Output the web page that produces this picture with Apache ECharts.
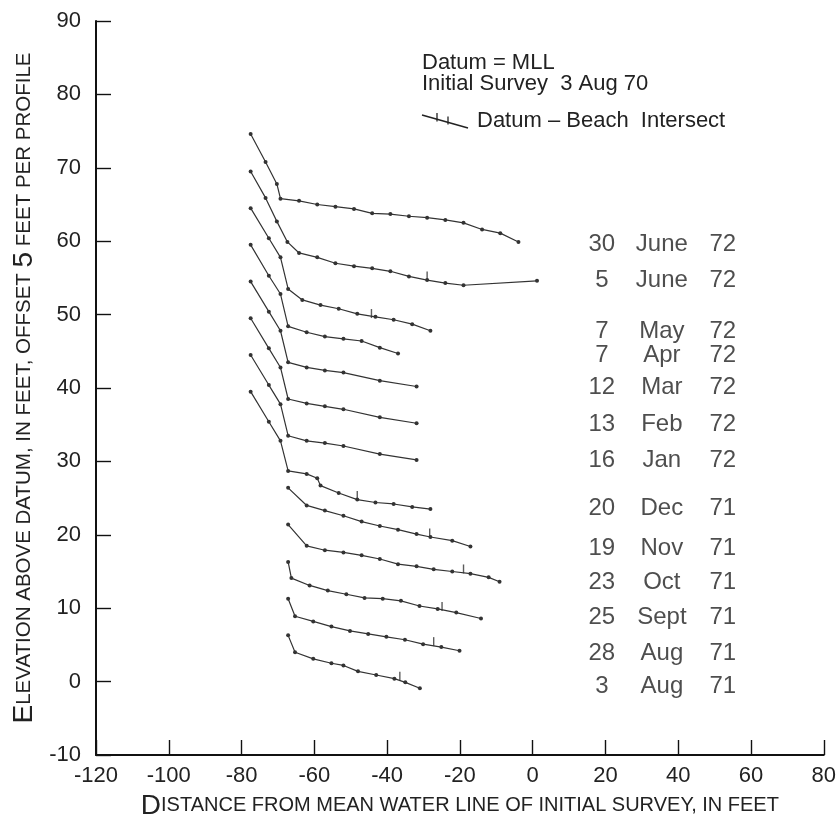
<!DOCTYPE html>
<html>
<head>
<meta charset="utf-8">
<script src="https://cdn.jsdelivr.net/npm/echarts@6/dist/echarts.min.js"></script>
<style>
html,body{margin:0;padding:0;background:#fff;}
#chart{width:839px;height:828px;}
</style>
</head>
<body>
<div id="chart"></div>
<script>
// ---- Data ----
const profileDays   = ['30', '5', '7', '7', '12', '13', '16', '20', '19', '23', '25', '28', '3'];
const profileMonths = ['June', 'June', 'May', 'Apr', 'Mar', 'Feb', 'Jan', 'Dec', 'Nov', 'Oct', 'Sept', 'Aug', 'Aug'];
const profileYears  = ['72', '72', '72', '72', '72', '72', '72', '71', '71', '71', '71', '71', '71'];
const labelElev     = [59.6, 54.6, 47.7, 44.5, 40.1, 35.0, 30.2, 23.6, 18.2, 13.5, 8.7, 3.8, -0.6];

const x30Jun72 = [-77.5, -73.4, -70.3, -69.3, -64.2, -59.2, -54.2, -49.1, -44.1, -39.1, -34.0, -29.0, -24.0, -19.0, -13.9, -8.9, -3.9];
const y30Jun72 = [74.6, 70.8, 67.8, 65.8, 65.5, 65.0, 64.7, 64.4, 63.8, 63.7, 63.4, 63.2, 62.9, 62.5, 61.6, 61.1, 59.9];

const x5Jun72 = [-77.5, -73.4, -70.3, -67.4, -64.2, -59.2, -54.2, -49.1, -44.1, -39.1, -34.0, -29.0, -24.0, -19.0, 1.2];
const y5Jun72 = [69.5, 65.9, 62.7, 59.9, 58.4, 57.8, 57.0, 56.6, 56.3, 55.9, 55.2, 54.7, 54.3, 54.0, 54.6];

const x7May72 = [-77.5, -72.5, -69.3, -67.2, -63.3, -58.3, -53.3, -48.2, -43.2, -38.2, -33.1, -28.1];
const y7May72 = [64.5, 60.4, 57.8, 53.5, 52.0, 51.3, 50.8, 50.1, 49.7, 49.3, 48.7, 47.8];

const x7Apr72 = [-77.5, -72.5, -69.3, -67.2, -62.1, -57.1, -52.0, -47.0, -42.0, -37.0];
const y7Apr72 = [59.5, 55.3, 52.8, 48.4, 47.6, 47.0, 46.7, 46.4, 45.5, 44.7];

const x12Mar72 = [-77.5, -72.5, -69.3, -67.2, -62.1, -57.1, -52.0, -42.0, -31.9];
const y12Mar72 = [54.5, 50.4, 47.8, 43.5, 42.8, 42.4, 42.1, 41.0, 40.2];

const x13Feb72 = [-77.5, -72.5, -69.3, -67.2, -62.1, -57.1, -52.0, -42.0, -31.9];
const y13Feb72 = [49.5, 45.4, 42.8, 38.5, 37.9, 37.5, 37.1, 36.0, 35.2];

const x16Jan72 = [-77.5, -72.5, -69.3, -67.2, -62.1, -57.1, -52.0, -42.0, -31.9];
const y16Jan72 = [44.5, 40.4, 37.8, 33.5, 32.8, 32.5, 32.1, 31.0, 30.2];

const x20Dec71 = [-77.5, -72.5, -69.3, -67.2, -62.1, -59.2, -58.3, -53.3, -48.2, -43.2, -38.2, -33.1, -28.1];
const y20Dec71 = [39.5, 35.4, 32.8, 28.7, 28.3, 27.7, 26.7, 25.7, 24.8, 24.4, 24.2, 23.8, 23.5];

const x19Nov71 = [-67.2, -62.1, -57.1, -52.0, -47.0, -42.0, -37.0, -31.9, -28.1, -22.1, -17.1];
const y19Nov71 = [26.4, 24.0, 23.3, 22.6, 21.8, 21.2, 20.7, 20.1, 19.7, 19.2, 18.4];

const x23Oct71 = [-67.2, -62.1, -57.1, -52.0, -47.0, -42.0, -37.0, -31.9, -27.2, -22.1, -17.1, -12.1, -9.1];
const y23Oct71 = [21.4, 18.5, 17.9, 17.6, 17.2, 16.7, 16.0, 15.7, 15.3, 15.0, 14.7, 14.2, 13.6];

const x25Sep71 = [-67.2, -66.3, -61.3, -56.3, -51.2, -46.2, -41.2, -36.2, -31.1, -26.1, -21.0, -14.2];
const y25Sep71 = [16.3, 14.1, 13.1, 12.4, 11.9, 11.4, 11.3, 11.0, 10.3, 9.9, 9.4, 8.6];

const x28Aug71 = [-67.2, -65.3, -60.3, -55.3, -50.2, -45.2, -40.2, -35.1, -30.1, -25.1, -20.1];
const y28Aug71 = [11.3, 8.9, 8.2, 7.5, 6.9, 6.5, 6.1, 5.7, 5.1, 4.7, 4.2];

const x3Aug71 = [-67.2, -65.3, -60.3, -55.3, -52.0, -48.0, -43.0, -38.0, -35.0, -31.0];
const y3Aug71 = [6.3, 4.0, 3.1, 2.5, 2.2, 1.4, 0.9, 0.4, -0.1, -0.9];

// Datum - Beach intersect marks
const intersectX = [-29.0, -44.3, -48.2, -28.3, -19.0, -24.9, -27.2, -36.5];
const intersectY = [54.7, 49.6, 24.8, 19.7, 14.8, 9.7, 4.9, 0.2];

const xTicks = [-120, -100, -80, -60, -40, -20, 0, 20, 40, 60, 80];
const yTicks = [-10, 0, 10, 20, 30, 40, 50, 60, 70, 80, 90];

// ---- Build ----
const profiles = [
  [x30Jun72, y30Jun72], [x5Jun72, y5Jun72], [x7May72, y7May72], [x7Apr72, y7Apr72],
  [x12Mar72, y12Mar72], [x13Feb72, y13Feb72], [x16Jan72, y16Jan72], [x20Dec71, y20Dec71],
  [x19Nov71, y19Nov71], [x23Oct71, y23Oct71], [x25Sep71, y25Sep71], [x28Aug71, y28Aug71],
  [x3Aug71, y3Aug71]
];
const zip = (a, b) => a.map((v, i) => [v, b[i]]);
const ink = '#333333';
const FONT = '"Liberation Sans", Arial, sans-serif';

const series = profiles.map((p, i) => ({
  type: 'line',
  name: profileDays[i] + ' ' + profileMonths[i] + ' ' + profileYears[i],
  data: zip(p[0], p[1]),
  symbol: 'circle',
  symbolSize: 4,
  lineStyle: { color: ink, width: 1.2 },
  itemStyle: { color: ink },
  silent: true,
  animation: false,
  z: 3
}));

series.push({
  type: 'scatter',
  name: 'Datum - Beach Intersect',
  data: zip(intersectX, intersectY),
  symbol: 'rect',
  symbolSize: [1.4, 9],
  symbolOffset: [0, -4],
  itemStyle: { color: ink },
  silent: true,
  animation: false,
  z: 4
});

const labelAnchorX = 13.8;
series.push({
  type: 'scatter',
  name: 'labels',
  data: labelElev.map((y) => [labelAnchorX, y]),
  symbolSize: 0,
  silent: true,
  animation: false,
  label: {
    show: true,
    position: 'right',
    distance: 0,
    formatter: (p) => '{d|' + profileDays[p.dataIndex] + '}{m|' + profileMonths[p.dataIndex] + '}{y|' + profileYears[p.dataIndex] + '}',
    rich: {
      d: { width: 38, align: 'right', fontSize: 24, fontFamily: FONT, color: '#222' },
      m: { width: 82, align: 'center', fontSize: 24, fontFamily: FONT, color: '#222' },
      y: { width: 40, align: 'left', fontSize: 24, fontFamily: FONT, color: '#222' }
    }
  }
});

const chart = echarts.init(document.getElementById('chart'), null, { renderer: 'canvas' });
chart.setOption({
  animation: false,
  backgroundColor: '#ffffff',
  grid: { left: 96, right: 14, top: 21, bottom: 73, containLabel: false },
  xAxis: {
    type: 'value', min: -120, max: 80, interval: 20,
    axisLine: { show: true, onZero: false, lineStyle: { color: '#111', width: 2 } },
    axisTick: { show: true, inside: true, length: 15, lineStyle: { color: '#111', width: 1.4 } },
    splitLine: { show: false },
    axisLabel: { fontSize: 22, fontFamily: FONT, color: '#222', margin: 10 },
    name: '{b|D}{s|ISTANCE FROM MEAN WATER LINE OF INITIAL SURVEY, IN FEET}',
    nameLocation: 'middle',
    nameGap: 29,
    nameTextStyle: {
      rich: {
        b: { fontSize: 28, fontFamily: FONT, color: '#222' },
        s: { fontSize: 20, fontFamily: FONT, color: '#222' }
      }
    }
  },
  yAxis: {
    type: 'value', min: -10, max: 90, interval: 10,
    axisLine: { show: true, onZero: false, lineStyle: { color: '#111', width: 2 } },
    axisTick: { show: true, inside: true, length: 15, lineStyle: { color: '#111', width: 1.4 } },
    splitLine: { show: false },
    axisLabel: { fontSize: 22, fontFamily: FONT, color: '#222', margin: 15 },
    name: '{b|E}{s|LEVATION ABOVE DATUM, IN FEET, OFFSET }{b|5}{s| FEET PER PROFILE}',
    nameLocation: 'middle',
    nameGap: 58,
    nameTextStyle: {
      rich: {
        b: { fontSize: 28, fontFamily: FONT, color: '#222' },
        s: { fontSize: 20.5, fontFamily: FONT, color: '#222' }
      }
    }
  },
  graphic: [
    { type: 'text', left: 422, top: 52, style: { text: 'Datum = MLL', font: '22px ' + FONT, fill: '#222' } },
    { type: 'text', left: 422, top: 73, style: { text: 'Initial Survey  3 Aug 70', font: '22px ' + FONT, fill: '#222' } },
    { type: 'line', shape: { x1: 422, y1: 115, x2: 468, y2: 128 }, style: { stroke: '#222', lineWidth: 1.5 } },
    { type: 'line', shape: { x1: 437, y1: 113, x2: 437, y2: 121.5 }, style: { stroke: '#222', lineWidth: 1.3 } },
    { type: 'line', shape: { x1: 448, y1: 116.5, x2: 448, y2: 124.5 }, style: { stroke: '#222', lineWidth: 1.3 } },
    { type: 'text', left: 477, top: 110, style: { text: 'Datum \u2013 Beach  Intersect', font: '22px ' + FONT, fill: '#222' } }
  ],
  series: series
});
</script>
</body>
</html>
